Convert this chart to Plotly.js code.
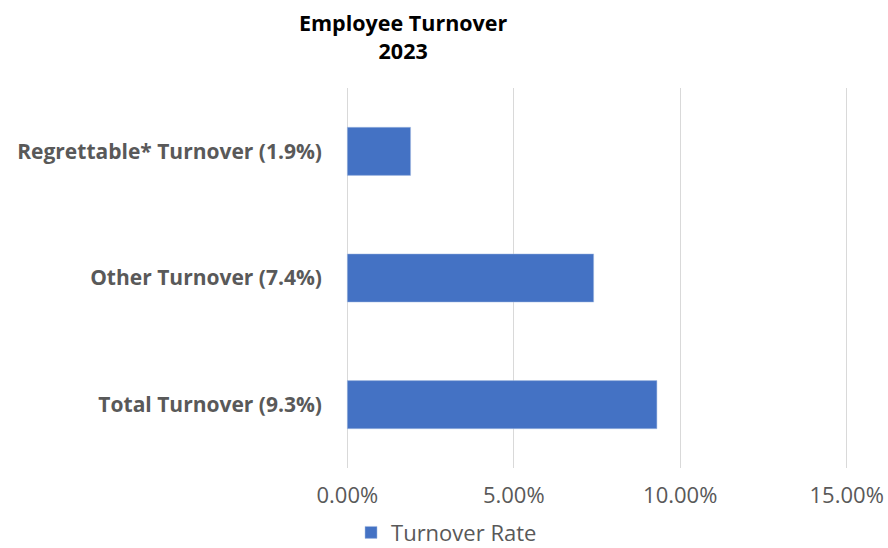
<!DOCTYPE html>
<html>
<head>
<meta charset="utf-8">
<script src="https://cdn.plot.ly/plotly-3.0.1.min.js"></script>
<style>html,body{margin:0;padding:0;background:#fff;}#chart{width:888px;height:548px;}</style>
</head>
<body>
<div id="chart"></div>
<script>
const categories = ["Total Turnover (9.3%)", "Other Turnover (7.4%)", "Regrettable* Turnover (1.9%)"];
const turnoverRate = [0.093, 0.074, 0.019];
const seriesName = "Turnover Rate";
const tickValues = [0, 0.05, 0.10, 0.15];
const tickLabels = ["0.00%", "5.00%", "10.00%", "15.00%"];

const font = "Open Sans, Noto Sans, sans-serif";

Plotly.newPlot("chart", [{
  type: "bar",
  orientation: "h",
  x: turnoverRate,
  y: categories,
  name: seriesName,
  marker: {color: "#4472C4", line: {color: "#A9BEE3", width: 0.5}},
  width: 0.38,
  showlegend: true
}], {
  width: 888, height: 548,
  margin: {l: 346, r: 40, t: 88, b: 80, autoexpand: false},
  paper_bgcolor: "#fff", plot_bgcolor: "#fff",
  title: {
    text: "<b>Employee Turnover<br>2023</b>",
    font: {family: font, size: 21.5, color: "#000"},
    x: 0.454, xref: "container", xanchor: "center",
    y: 0.943, yref: "container", yanchor: "middle"
  },
  xaxis: {
    range: [-0.0004, 0.1504],
    tickvals: tickValues, ticktext: tickLabels,
    showgrid: true, gridcolor: "#D9D9D9", gridwidth: 1,
    zeroline: false, showline: false,
    ticks: "", ticklabelstandoff: 12,
    tickfont: {family: font, size: 22, color: "#595959"},
    fixedrange: true
  },
  yaxis: {
    showgrid: false, zeroline: false, showline: false,
    ticks: "", ticklabelstandoff: 23,
    tickfont: {family: font, size: 21, color: "#595959", weight: "bold"},
    fixedrange: true
  },
  legend: {
    orientation: "h",
    x: 0.01, xanchor: "left",
    y: -0.17, yanchor: "middle",
    font: {family: font, size: 22, color: "#595959"}
  },
  bargap: 0.62
}, {displayModeBar: false, staticPlot: true});
</script>
</body>
</html>
